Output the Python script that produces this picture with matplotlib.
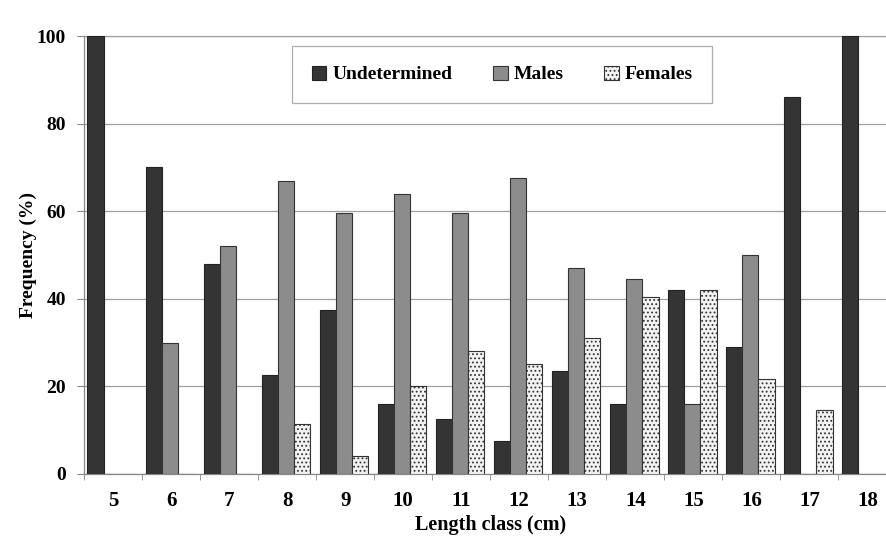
import numpy as np
import matplotlib
matplotlib.use("Agg")
import matplotlib.pyplot as plt

# DATA

length_classes = ["5", "6", "7", "8", "9", "10", "11", "12", "13", "14", "15", "16", "17", "18"]
undetermined = [100, 70, 48, 22.5, 37.5, 16, 12.5, 7.5, 23.5, 16, 42, 29, 86, 100]
males = [0, 30, 52, 67, 59.5, 64, 59.5, 67.5, 47, 44.5, 16, 50, 0, 0]
females = [0, 0, 0, 11.5, 4.2, 20, 28, 25, 31, 40.5, 42, 21.7, 14.6, 0]
y_ticks = [0, 20, 40, 60, 80, 100]

# STYLE

plt.rcParams['font.family'] = ['Liberation Serif', 'DejaVu Serif']
plt.rcParams['font.weight'] = 'bold'
plt.rcParams['hatch.color'] = '#707070'
plt.rcParams['hatch.linewidth'] = 0.8

fig = plt.figure(figsize=(8.86, 5.42), dpi=100)
ax = fig.add_axes([0.0948, 0.1255, 0.917, 0.808])

x = np.arange(len(length_classes))
w = 0.28

ax.bar(x - 0.30, undetermined, w, color='#343434', edgecolor='#222222',
       linewidth=0.8, label='Undetermined', zorder=3)
ax.bar(x - 0.02, males, w, color='#8c8c8c', edgecolor='#333333',
       linewidth=0.8, label='Males', zorder=3)
ax.bar(x + 0.26, females, w, color='#f2f2f2', edgecolor='#333333',
       linewidth=0.8, hatch='....', label='Females', zorder=3)

# AXES

ax.set_xlim(-0.5, 13.5)
ax.set_ylim(0, 100)
ax.set_yticks(y_ticks)
ax.set_yticklabels([str(v) for v in y_ticks], fontsize=14, fontweight='bold')
ax.set_xticks(x)
ax.set_xticklabels(length_classes, fontsize=15, fontweight='bold')
ax.set_xticks(np.arange(-0.5, 13.6, 1), minor=True)
ax.tick_params(axis='x', which='major', length=0, pad=12)
ax.tick_params(axis='x', which='minor', length=4, color='#888888', direction='out')
ax.tick_params(axis='y', length=5, color='#888888', pad=8)

ax.yaxis.grid(True, color='#a0a0a0', linewidth=0.9, zorder=0)
ax.set_axisbelow(True)

for s in ['top', 'right']:
    ax.spines[s].set_visible(False)
for s in ['left', 'bottom']:
    ax.spines[s].set_color('#888888')
    ax.spines[s].set_linewidth(0.9)
ax.axhline(100, color='#a0a0a0', linewidth=0.9, zorder=1, clip_on=False)

ax.set_xlabel("Length class (cm)", fontsize=14.5, fontweight='bold', labelpad=3)
ax.set_ylabel("Frequency (%)", fontsize=14, fontweight='bold', labelpad=0)

# LEGEND

leg = ax.legend(loc='upper center', bbox_to_anchor=(0.515, 0.977), ncol=3,
                fontsize=14, frameon=True, fancybox=False, edgecolor='#999999',
                handlelength=0.75, handleheight=0.75, handletextpad=0.3,
                columnspacing=2.1, borderpad=1.0, borderaxespad=0)
leg.get_frame().set_linewidth(0.9)
for t in leg.get_texts():
    t.set_fontweight('bold')

fig.savefig("out.png", dpi=100, facecolor='white')
